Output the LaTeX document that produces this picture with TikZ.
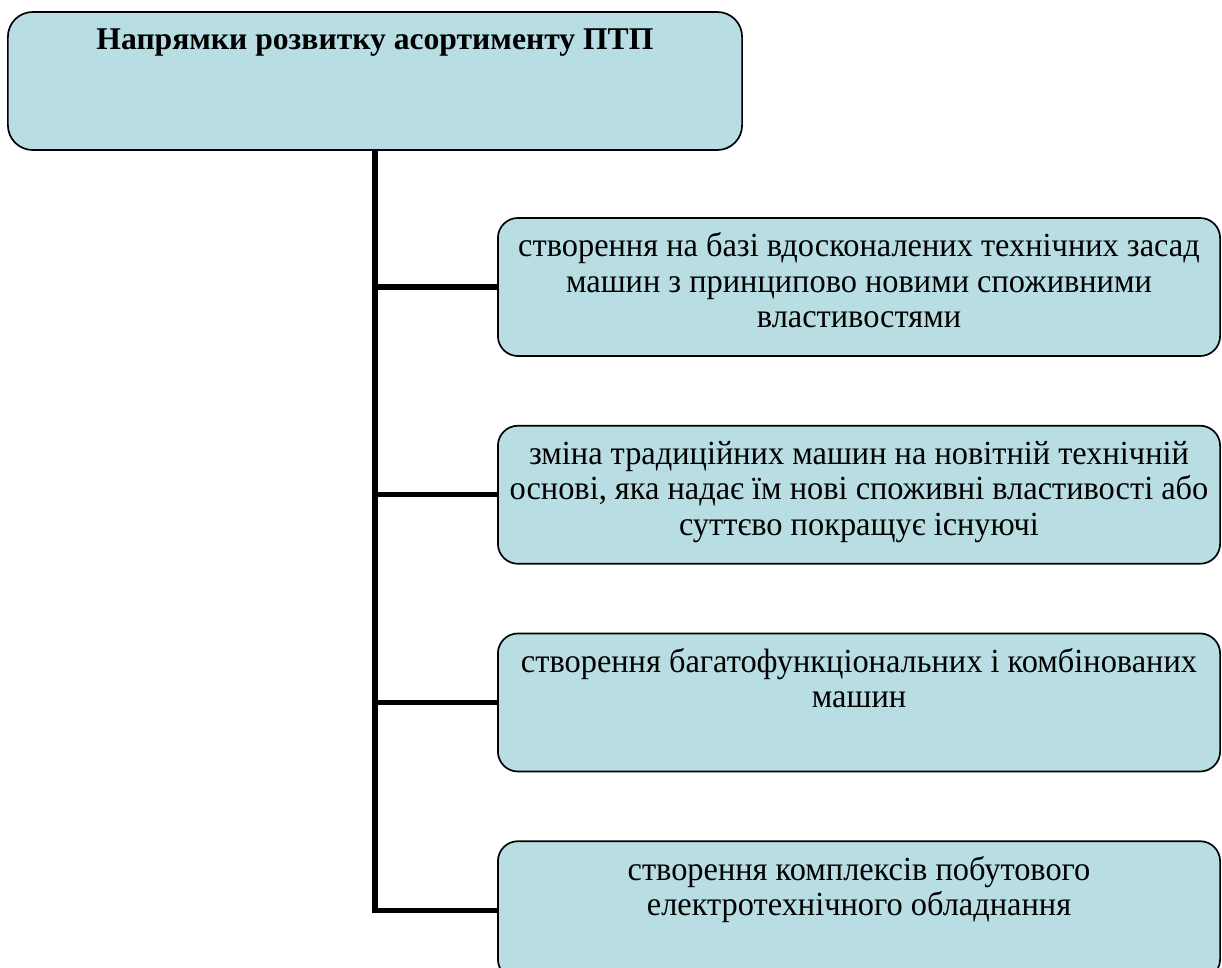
\documentclass[tikz,border=0pt]{standalone}
\usepackage{fontspec}
\setmainfont{Liberation Serif}
\newfontfamily\dirfont{Liberation Serif}[FakeStretch=0.96]
\usetikzlibrary{positioning}
\definecolor{boxfill}{RGB}{184,222,227}

\begin{document}
\begin{tikzpicture}[x=0.025cm, y=-0.025cm, node distance=1.7cm,
  every node/.style={transform shape},
  headbox/.style={draw, rounded corners=0.62cm, fill=boxfill, line width=1.2pt, inner xsep=0pt, inner ysep=0pt, text width=18.35cm, align=flush center, font=\bfseries\fontsize{22.5}{25}\selectfont, text height=0.95cm, text depth=2.5cm},
  branchbox/.style={draw, rounded corners=0.5cm, fill=boxfill, line width=1.2pt, inner xsep=0pt, inner ysep=0pt, text width=18.05cm, align=flush center, font=\dirfont\fontsize{24}{25}\selectfont, text height=0.975cm, text depth=2.475cm},
  stem/.style={line width=3.6pt}]
\path[use as bounding box] (0,0) rectangle (1222,967);
\clip (0,0) rectangle (1222,967);
\fill[white] (0,0) rectangle (1222,967);

% Head
\node (head) at (375,81) [headbox] {Напрямки розвитку асортименту ПТП};

% Directions
\node (dir1) at (859,287) [branchbox] {створення на базі вдосконалених технічних засад\\ машин з принципово новими споживними\\ властивостями};
\node (dir2) [branchbox, below=of dir1] {зміна традиційних машин на новітній технічній\\ основі, яка надає їм нові споживні властивості або\\ суттєво покращує існуючі};
\node (dir3) [branchbox, below=of dir2] {створення багатофункціональних і комбінованих\\ машин};
\node (dir4) [branchbox, below=of dir3] {створення комплексів побутового\\ електротехнічного обладнання};

% Tree lines
\draw[stem] (head.south) |- (dir4.west);
\draw[stem] (head.south |- dir1.west) -- (dir1.west);
\draw[stem] (head.south |- dir2.west) -- (dir2.west);
\draw[stem] (head.south |- dir3.west) -- (dir3.west);
\end{tikzpicture}
\end{document}
